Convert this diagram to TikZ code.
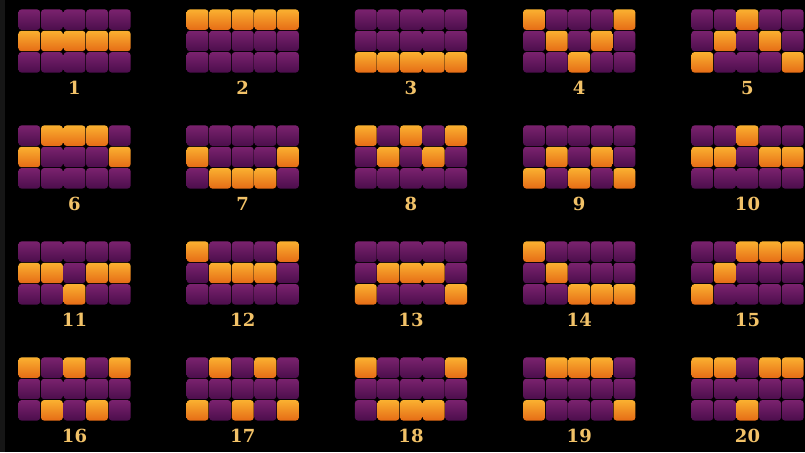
\documentclass[tikz,border=0pt]{standalone}
\usepackage{fontspec}
\newfontfamily\numfont{DejaVu Serif}[UprightFont={* Bold}, BoldFont={* Bold}]
\definecolor{orT}{RGB}{250,176,48}
\definecolor{orB}{RGB}{230,108,22}
\definecolor{puT}{RGB}{122,34,110}
\definecolor{puB}{RGB}{76,14,76}
\definecolor{gold}{RGB}{242,194,104}
\definecolor{edgegray}{RGB}{22,22,22}
\begin{document}
\begin{tikzpicture}[x=1pt,y=-1pt,
  cellbase/.style={rounded corners=3pt, minimum width=21.8pt, minimum height=20.4pt,
    inner sep=0pt, outer sep=0pt},
  hit/.style={cellbase, top color=orT, bottom color=orB},
  miss/.style={cellbase, top color=puT, bottom color=puB},
  lbl/.style={text=gold, draw=none, inner sep=0pt, font=\numfont\fontsize{18}{18}\selectfont}]
\useasboundingbox (0,0) rectangle (805,452);
\fill[black] (0,0) rectangle (805,452);
\fill[edgegray] (0,0) rectangle (5,452);
\foreach \pat [count=\n from 0] in {
  {1,1,1,1,1},{0,0,0,0,0},{2,2,2,2,2},{0,1,2,1,0},{2,1,0,1,2},
  {1,0,0,0,1},{1,2,2,2,1},{0,1,0,1,0},{2,1,2,1,2},{1,1,0,1,1},
  {1,1,2,1,1},{0,1,1,1,0},{2,1,1,1,2},{0,1,2,2,2},{2,1,0,0,0},
  {0,2,0,2,0},{2,0,2,0,2},{0,2,2,2,0},{2,0,0,0,2},{0,0,2,0,0}}{
  \pgfmathtruncatemacro\gc{mod(\n,5)}
  \pgfmathtruncatemacro\gr{div(\n,5)}
  \pgfmathtruncatemacro\num{\n+1}
  \pgfmathsetmacro\xo{18+168.25*\gc}
  \pgfmathsetmacro\yo{9+116*\gr}
  \foreach \o [count=\c from 0] in \pat {
    \foreach \r in {0,1,2}{
      \ifnum\r=\o\relax
        \node[hit] (n\n-\r-\c) at ({\xo+11.3+22.6*\c},{\yo+10.67+21.33*\r}) {};
      \else
        \node[miss] (n\n-\r-\c) at ({\xo+11.3+22.6*\c},{\yo+10.67+21.33*\r}) {};
      \fi
    }
  }
  \node[lbl] (lab\n) at ({\xo+56.5},{\yo+79}) {\num};
}
\end{tikzpicture}
\end{document}
